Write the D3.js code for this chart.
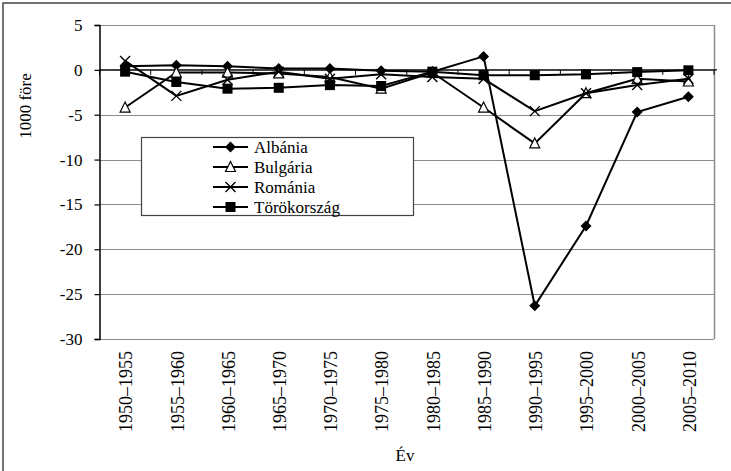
<!DOCTYPE html>
<html>
<head>
<meta charset="utf-8">
<script src="https://cdn.jsdelivr.net/npm/d3@7"></script>
<style>
  html, body { margin: 0; padding: 0; background: #fff; }
  svg text { font-family: "Liberation Serif", "DejaVu Serif", serif; }
</style>
</head>
<body>
<svg id="chart" width="731" height="471"></svg>
<script>
const categories = ["1950–1955","1955–1960","1960–1965","1965–1970","1970–1975","1975–1980","1980–1985","1985–1990","1990–1995","1995–2000","2000–2005","2005–2010"];
const albania  = [0.4, 0.5, 0.4, 0.15, 0.15, -0.1, -0.2, 1.5, -26.3, -17.4, -4.7, -3.0];
const bulgaria = [-4.2, -0.3, -0.3, -0.4, -0.8, -2.1, -0.3, -4.2, -8.2, -2.6, -1.0, -1.3];
const romania  = [1.0, -2.9, -1.1, -0.2, -1.0, -0.5, -0.8, -1.0, -4.6, -2.6, -1.7, -1.0];
const turkey   = [-0.2, -1.35, -2.1, -2.0, -1.7, -1.8, -0.2, -0.6, -0.6, -0.5, -0.25, -0.05];
const seriesNames = ["Albánia", "Bulgária", "Románia", "Törökország"];
const yTicks = [5, 0, -5, -10, -15, -20, -25, -30];
const yTitle = "1000 före";
const xTitle = "Év";

const FONT = "'Liberation Serif', 'DejaVu Serif', serif";

const series = [
  {name: seriesNames[0], values: albania,  marker: "diamond"},
  {name: seriesNames[1], values: bulgaria, marker: "triangle"},
  {name: seriesNames[2], values: romania,  marker: "cross"},
  {name: seriesNames[3], values: turkey,   marker: "square"}
];

const svg = d3.select("#chart");
const L = 99.5, R = 714, T = 25, B = 339;

// outer frame
svg.append("rect").attr("x", 3).attr("y", 3).attr("width", 900).attr("height", 700)
  .attr("fill", "none").attr("stroke", "#444").attr("stroke-width", 1.5);

const x = d3.scaleBand().domain(categories).range([L, R]);
const y = d3.scaleLinear().domain([-30, 5]).range([B, T]);
const cx = c => x(c) + x.bandwidth() / 2;

// gridlines
svg.append("g").selectAll("line").data(yTicks).join("line")
  .attr("x1", L).attr("x2", R)
  .attr("y1", d => Math.round(y(d)) + 0.5).attr("y2", d => Math.round(y(d)) + 0.5)
  .attr("stroke", "#8c8c8c").attr("stroke-width", 1.2);
// plot border right
svg.append("line").attr("x1", R + 0.5).attr("x2", R + 0.5).attr("y1", y(5)).attr("y2", y(-30))
  .attr("stroke", "#8c8c8c").attr("stroke-width", 1.5);

// y axis
const yAxis = d3.axisLeft(y).tickValues(yTicks).tickSize(5).tickPadding(12).tickFormat(d3.format("d"));
const gy = svg.append("g").attr("transform", `translate(${L},0)`).call(yAxis)
  .attr("font-family", FONT).attr("font-size", 17);
gy.select(".domain").attr("stroke", "#000").attr("stroke-width", 1.5);
gy.selectAll(".tick line").attr("stroke", "#000").attr("stroke-width", 1.2);
gy.selectAll(".tick text").attr("font-size", 17).attr("font-family", FONT).attr("fill", "#000")
  .text(d => d < 0 ? "-" + Math.abs(d) : d);

// category axis at y = 0
const boundaries = d3.range(categories.length + 1).map(i => L + i * x.step());
svg.append("line").attr("x1", L).attr("x2", R + 3).attr("y1", y(0)).attr("y2", y(0))
  .attr("stroke", "#000").attr("stroke-width", 1.3);
svg.append("g").selectAll("line").data(boundaries).join("line")
  .attr("x1", d => d).attr("x2", d => d).attr("y1", y(0)).attr("y2", y(0) + 5)
  .attr("stroke", "#000").attr("stroke-width", 1);

// x labels
svg.append("g").selectAll("text").data(categories).join("text")
  .attr("transform", d => `translate(${cx(d) + 1},351) rotate(-90)`)
  .attr("text-anchor", "end").attr("dy", "0.35em")
  .attr("font-family", FONT).attr("font-size", 18).attr("fill", "#000").text(d => d);

// titles
svg.append("text").attr("transform", "translate(25,106) rotate(-90)")
  .attr("text-anchor", "middle").attr("dy", "0.35em")
  .attr("font-family", FONT).attr("font-size", 17).text(yTitle);
svg.append("text").attr("x", 405).attr("y", 461).attr("text-anchor", "middle")
  .attr("font-family", FONT).attr("font-size", 17).text(xTitle);

// markers
function drawMarker(g, type, px, py) {
  if (type === "diamond") {
    g.append("path").attr("d", `M${px},${py-5.5}L${px+5.5},${py}L${px},${py+5.5}L${px-5.5},${py}Z`)
      .attr("fill", "#000");
  } else if (type === "square") {
    g.append("rect").attr("x", px - 5).attr("y", py - 5).attr("width", 10).attr("height", 10).attr("fill", "#000");
  } else if (type === "triangle") {
    g.append("path").attr("d", `M${px},${py-5.5}L${px+5},${py+4.5}L${px-5},${py+4.5}Z`)
      .attr("fill", "#fff").attr("stroke", "#000").attr("stroke-width", 1.2);
  } else if (type === "cross") {
    g.append("path").attr("d", `M${px-5},${py-5}L${px+5},${py+5}M${px-5},${py+5}L${px+5},${py-5}`)
      .attr("stroke", "#000").attr("stroke-width", 1.4).attr("fill", "none");
  }
}

const line = d3.line().x((d, i) => cx(categories[i])).y(d => y(d));
series.forEach(s => {
  const g = svg.append("g");
  g.append("path").attr("d", line(s.values)).attr("fill", "none")
    .attr("stroke", "#000").attr("stroke-width", 2);
  s.values.forEach((v, i) => drawMarker(g, s.marker, cx(categories[i]), y(v)));
});

// legend
const lg = svg.append("g");
lg.append("rect").attr("x", 141.5).attr("y", 137.5).attr("width", 272).attr("height", 78)
  .attr("fill", "#fff").attr("stroke", "#444").attr("stroke-width", 1.2);
series.forEach((s, i) => {
  const ly = 147 + i * 20;
  lg.append("line").attr("x1", 213).attr("x2", 248).attr("y1", ly).attr("y2", ly)
    .attr("stroke", "#000").attr("stroke-width", 2);
  drawMarker(lg, s.marker, 230.5, ly);
  lg.append("text").attr("x", 254).attr("y", ly).attr("dy", "0.35em")
    .attr("font-family", FONT).attr("font-size", 17).text(s.name);
});
</script>
</body>
</html>
